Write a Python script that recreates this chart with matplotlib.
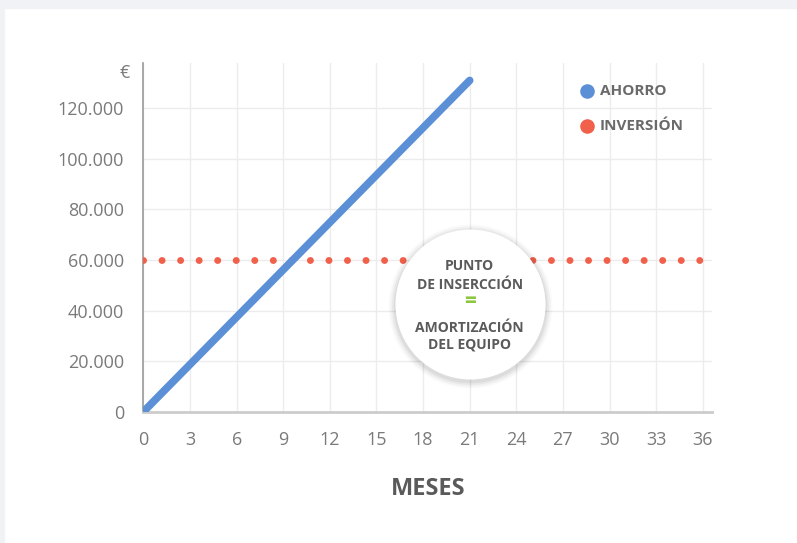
import matplotlib.pyplot as plt
from matplotlib.patches import Rectangle
from matplotlib.ticker import FuncFormatter

# datos
meses_ahorro = [0, 21]
ahorro = [0, 131000]
inversion = 60000
x_ticks = [0, 3, 6, 9, 12, 15, 18, 21, 24, 27, 30, 33, 36]
y_ticks = [0, 20000, 40000, 60000, 80000, 100000, 120000]
punto = (21, 42500)  # centro del círculo de anotación
series = ["AHORRO", "INVERSIÓN"]

AZUL = "#5b8fd6"
ROJO = "#f0604a"
GRIS_TXT = "#5a5a5a"
GRIS_TICK = "#7a7a7a"

plt.rcParams["font.family"] = ["Open Sans", "DejaVu Sans"]

fig = plt.figure(figsize=(7.97, 5.43), dpi=100)
fig.patches.append(Rectangle((0, 1 - 8 / 543), 1, 8 / 543, transform=fig.transFigure,
                             color="#f0f2f5", zorder=0))
fig.patches.append(Rectangle((0, 0), 4 / 797, 1, transform=fig.transFigure,
                             color="#f0f2f5", zorder=0))

ax = fig.add_axes([0.180, 0.2418, 0.7134, 0.6427])
ax.set_xlim(0, 36.6)
ax.set_ylim(0, 138000)

# cuadrícula
ax.set_xticks(x_ticks)
ax.set_yticks(y_ticks)
ax.grid(True, color="#ececec", linewidth=1, zorder=0)
ax.tick_params(length=0, labelsize=13, labelcolor=GRIS_TICK)
ax.tick_params(axis="y", pad=14)
ax.tick_params(axis="x", pad=14)
ax.yaxis.set_major_formatter(FuncFormatter(lambda v, p: f"{int(v):,}".replace(",", ".")))
for s in ["top", "right"]:
    ax.spines[s].set_visible(False)
ax.spines["left"].set_color("#9a9a9a")
ax.spines["left"].set_linewidth(1.2)
ax.spines["bottom"].set_color("#cccccc")
ax.spines["bottom"].set_linewidth(2)

# inversión (línea de puntos)
ax.axhline(inversion, color=ROJO, linewidth=5.0, linestyle=(0, (0.01, 2.66)),
           dash_capstyle="round", zorder=3)

# ahorro
ax.plot(meses_ahorro, ahorro, color=AZUL, linewidth=5.5, solid_capstyle="round", zorder=4)

# círculo con sombra
for i, a in enumerate([0.02, 0.03, 0.04, 0.05]):
    ax.scatter([punto[0]], [punto[1] - 700], s=(108 + 10 - 2.5 * i) ** 2, color="#000000",
               alpha=a, linewidths=0, zorder=5)
ax.scatter([punto[0]], [punto[1]], s=108 ** 2, color="white", linewidths=0, zorder=6)

lineas = [("PUNTO", 57600), ("DE INSERCCIÓN", 50100), ("AMORTIZACIÓN", 33100), ("DEL EQUIPO", 26400)]
for txt, yy in lineas:
    ax.text(punto[0], yy, txt, ha="center", va="center", fontsize=10, fontweight="bold",
            color=GRIS_TXT, zorder=7)
ax.text(punto[0], 43400, "=", ha="center", va="center",
        fontsize=15, fontweight="bold", color="#8dc63f", zorder=7)

# símbolo de moneda
ax.text(-0.9, 134000, "€", ha="right", va="center", fontsize=13, color=GRIS_TICK)

# leyenda
for nombre, col, yy in zip(series, [AZUL, ROJO], [0.919, 0.819]):
    ax.scatter([0.780], [yy], s=110, color=col, linewidths=0, transform=ax.transAxes,
               clip_on=False, zorder=7)
    ax.text(0.803, yy, nombre, ha="left", va="center", fontsize=11, fontweight="bold",
            color="#6a6a6a", transform=ax.transAxes, zorder=7)

ax.set_xlabel("MESES", fontsize=17, fontweight="bold", color=GRIS_TXT, labelpad=20)

fig.savefig("out.png", dpi=100)
